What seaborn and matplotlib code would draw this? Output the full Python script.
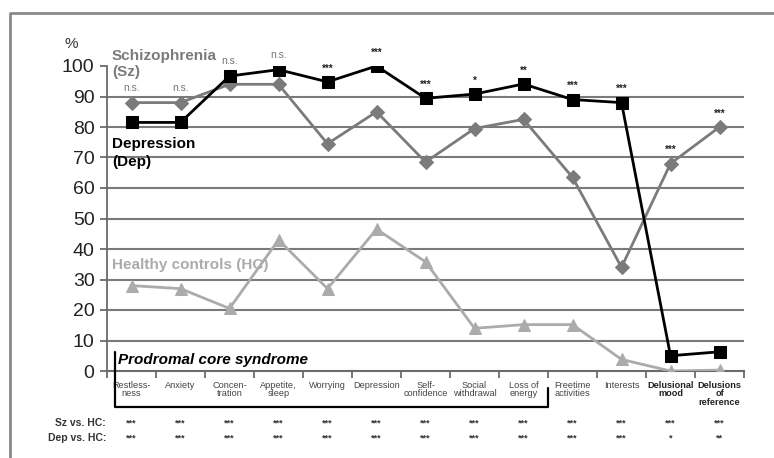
import numpy as np
import pandas as pd
import matplotlib
matplotlib.use("Agg")
import matplotlib.pyplot as plt
from matplotlib.lines import Line2D
from matplotlib import font_manager as fm
import seaborn as sns

categories = ["Restless-\nness", "Anxiety", "Concen-\ntration", "Appetite,\nsleep",
              "Worrying", "Depression", "Self-\nconfidence", "Social\nwithdrawal",
              "Loss of\nenergy", "Freetime\nactivities", "Interests",
              "Delusional\nmood", "Delusions\nof\nreference"]
sz_values = [88, 88, 94, 94, 74.5, 85, 68.5, 79.5, 82.5, 63.5, 34, 68, 80]
dep_values = [81.5, 81.5, 96.7, 98.8, 94.8, 100, 89.4, 90.8, 94.1, 89, 88, 5, 6.3]
hc_values = [28, 27, 20.5, 43, 27, 46.5, 35.8, 14, 15.2, 15.2, 3.8, 0, 0.3]
sz_vs_dep = ["n.s.", "n.s.", "n.s.", "n.s.", "***", "***", "***", "*", "**",
             "***", "***", "***", "***"]
sz_vs_hc = ["***"] * 13
dep_vs_hc = ["***"] * 11 + ["*", "**"]
yticks = [0, 10, 20, 30, 40, 50, 60, 70, 80, 90, 100]

sns.set_theme(style="white")
plt.rcParams['font.family'] = ['Liberation Sans', 'DejaVu Sans']

try:
    fm.findfont(fm.FontProperties(family="Liberation Sans Narrow"), fallback_to_default=False)
    NARROW = True
except Exception:
    NARROW = False
LBL_FAM = ['Liberation Sans Narrow'] if NARROW else ['Liberation Sans']
LBL_SIZE = 13 if NARROW else 11

W, H = 774, 458
fig = plt.figure(figsize=(W / 100, H / 100), dpi=100)
ax = fig.add_axes([107 / W, (H - 371) / H, (744 - 107) / W, (371 - 66) / H])

idx = np.arange(len(categories))
df = pd.DataFrame({"idx": idx, "sz": sz_values, "dep": dep_values, "hc": hc_values})

SZ_C = "#7b7b7b"
HC_C = "#ababab"
DEP_C = "#000000"

for yv in yticks[1:-1]:
    ax.axhline(yv, color="#7a7a7a", lw=1.5, zorder=0)

sns.lineplot(data=df, x="idx", y="hc", ax=ax, color=HC_C, lw=2, marker="^",
             markersize=9, markeredgecolor=HC_C, zorder=3)
sns.lineplot(data=df, x="idx", y="sz", ax=ax, color=SZ_C, lw=2, marker="D",
             markersize=7, markeredgecolor=SZ_C, zorder=4)
sns.lineplot(data=df, x="idx", y="dep", ax=ax, color=DEP_C, lw=2, marker="s",
             markersize=9, markeredgecolor=DEP_C, zorder=5)

ax.set_xlim(-0.5, len(categories) - 0.5)
ax.set_ylim(0, 100)
ax.set_xlabel("")
ax.set_ylabel("")

for s in ["top", "right"]:
    ax.spines[s].set_visible(False)
ax.spines["left"].set_color("#6a6a6a")
ax.spines["left"].set_linewidth(1.3)
ax.spines["bottom"].set_color("#6a6a6a")
ax.spines["bottom"].set_linewidth(1.5)

ax.set_yticks(yticks)
ax.set_yticklabels([str(v) for v in yticks], fontsize=14, color="#222222")
ax.tick_params(axis="y", left=True, length=5, width=1.3, color="#6a6a6a", pad=4)

ax.set_xticks(idx)
ax.set_xticklabels(categories, fontsize=6.6, color="#444444", linespacing=0.95)
ax.tick_params(axis="x", which="major", length=0, pad=7)
ax.set_xticks(np.arange(len(categories) + 1) - 0.5, minor=True)
ax.tick_params(axis="x", which="minor", bottom=True, length=5, width=1.3, color="#6a6a6a")
for lab in ax.get_xticklabels()[-2:]:
    lab.set_fontweight("bold")
    lab.set_color("#222222")

# significance Sz vs Dep
for i, s in enumerate(sz_vs_dep):
    top = max(sz_values[i], dep_values[i])
    if s == "n.s.":
        ax.annotate(s, (i, top), xytext=(0, 7), textcoords="offset points",
                    ha="center", va="bottom", fontsize=7.5, color="#777777")
    else:
        ax.annotate(s, (i, top), xytext=(0, 6), textcoords="offset points",
                    ha="center", va="bottom", fontsize=7, color="#222222", fontweight="bold")

# series labels
fig.text(112 / W, 1 - 64 / H, "Schizophrenia\n(Sz)", fontsize=LBL_SIZE, fontweight="bold",
         family=LBL_FAM, color=SZ_C, va="center", ha="left", linespacing=1.25)
fig.text(112 / W, 1 - 153 / H, "Depression\n(Dep)", fontsize=LBL_SIZE, fontweight="bold",
         family=LBL_FAM, color="#000000", va="center", ha="left", linespacing=1.35)
fig.text(112 / W, 1 - 265 / H, "Healthy controls (HC)", fontsize=LBL_SIZE, fontweight="bold",
         family=LBL_FAM, color=HC_C, va="center", ha="left")
fig.text(118 / W, 1 - 360 / H, "Prodromal core syndrome", fontsize=11, fontweight="bold",
         fontstyle="italic", color="#000000", va="center", ha="left")
fig.text(71 / W, 1 - 44 / H, "%", fontsize=11, color="#333333", va="center", ha="center")

# bracket
bx = [115, 115, 548, 548]
by = [352, 407, 407, 388]
fig.add_artist(Line2D([x / W for x in bx], [1 - y / H for y in by], color="#000000", lw=1.6))

# bottom comparison rows
fig.text(106 / W, 1 - 423 / H, "Sz vs. HC:", fontsize=7.5, fontweight="bold",
         color="#333333", ha="right", va="center")
fig.text(106 / W, 1 - 438 / H, "Dep vs. HC:", fontsize=7.5, fontweight="bold",
         color="#333333", ha="right", va="center")
for i in idx:
    xf = (107 + (i + 0.5) * (744 - 107) / len(categories)) / W
    fig.text(xf, 1 - 423 / H, sz_vs_hc[i], fontsize=6.5, color="#333333",
             ha="center", va="center", fontweight="bold")
    fig.text(xf, 1 - 438 / H, dep_vs_hc[i], fontsize=6.5, color="#333333",
             ha="center", va="center", fontweight="bold")

# frame
fig.add_artist(Line2D([10 / W, 10 / W, 1.0], [0.0, 1 - 13 / H, 1 - 13 / H],
                      color="#8a8a8a", lw=2))

fig.savefig("out.png", dpi=100)
